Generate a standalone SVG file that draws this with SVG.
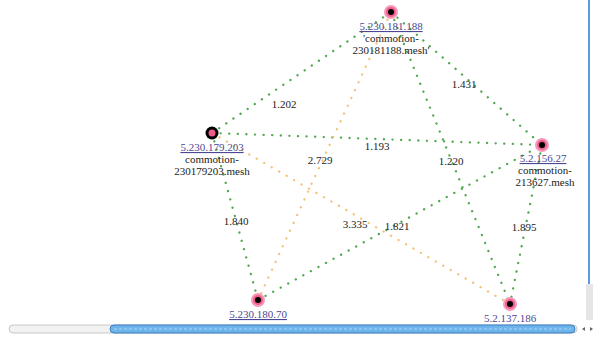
<svg xmlns="http://www.w3.org/2000/svg" width="593" height="339" viewBox="0 0 593 339">
<defs>
<style>
.g{stroke:#4fa84f;stroke-width:2.3;stroke-dasharray:0.1 8.5;stroke-linecap:round;fill:none}
.o{stroke:#f3c37a;stroke-width:2.3;stroke-dasharray:0.1 8.5;stroke-linecap:round;fill:none}
.el{font-family:"Liberation Serif",serif;font-size:11px;fill:#222;text-anchor:middle}
.ip{font-family:"Liberation Serif",serif;font-size:11px;fill:#4b4790;text-anchor:middle;text-decoration:underline}
.nm{font-family:"Liberation Serif",serif;font-size:11px;fill:#222;text-anchor:middle}
.pk{fill:#ee5c8c;stroke:#f59ab8;stroke-width:2}
</style>
</defs>
<rect width="593" height="339" fill="#fff"/>
<g id="connectors">
<line class="g" x1="212" y1="133" x2="391" y2="12"/>
<line class="g" x1="391" y1="12" x2="542" y2="145"/>
<line class="g" x1="212" y1="133" x2="542" y2="145"/>
<line class="g" x1="391" y1="12" x2="510" y2="304"/>
<line class="g" x1="212" y1="133" x2="258" y2="300"/>
<line class="g" x1="258" y1="300" x2="542" y2="145"/>
<line class="g" x1="542" y1="145" x2="510" y2="304"/>
<line class="o" x1="391" y1="12" x2="258" y2="300"/>
<line class="o" x1="212" y1="133" x2="510" y2="304"/>
<g id="edge-labels">
<text class="el" x="284" y="108">1.202</text>
<text class="el" x="464" y="88">1.431</text>
<text class="el" x="377" y="150">1.193</text>
<text class="el" x="451" y="165">1.220</text>
<text class="el" x="320" y="164">2.729</text>
<text class="el" x="236" y="225">1.840</text>
<text class="el" x="355" y="228">3.335</text>
<text class="el" x="397" y="230">1.821</text>
<text class="el" x="524" y="231">1.895</text>
</g>
</g>
<g id="node-181188">
<circle class="pk" cx="391" cy="12" r="6"/><circle cx="391" cy="12" r="3" fill="#000"/>
<text class="ip" x="391" y="30">5.230.181.188</text>
<text class="nm" x="391" y="42">'commotion-</text>
<text class="nm" x="391" y="54">230181188.mesh'</text>
</g>
<g id="node-179203">
<circle cx="212" cy="133" r="6.5" fill="#000"/><circle cx="212" cy="133" r="3.5" fill="#ee5c8c"/>
<text class="ip" x="212" y="151">5.230.179.203</text>
<text class="nm" x="212" y="163">commotion-</text>
<text class="nm" x="212" y="175">230179203.mesh</text>
</g>
<g id="node-15627">
<circle class="pk" cx="542" cy="145" r="6"/><circle cx="542" cy="145" r="3" fill="#000"/>
<text class="ip" x="543" y="162">5.2.156.27</text>
<text class="nm" x="545" y="174">commotion-</text>
<text class="nm" x="545" y="186">213627.mesh</text>
</g>
<g id="node-18070">
<circle class="pk" cx="258" cy="300" r="6"/><circle cx="258" cy="300" r="3" fill="#000"/>
<text class="ip" x="258" y="318">5.230.180.70</text>
<text class="nm" x="258" y="330">commotion-</text>
</g>
<g id="node-137186">
<circle class="pk" cx="510" cy="304" r="6"/><circle cx="510" cy="304" r="3" fill="#000"/>
<text class="ip" x="510" y="322">5.2.137.186</text>
</g>
<g id="scrollbars">
<rect x="0" y="322" width="593" height="17" fill="#fff"/>
<rect x="588" y="0" width="2" height="284" fill="#5b9be0"/>
<rect x="586" y="284" width="7" height="36" fill="#e6e6e6"/>
<rect x="9" y="325" width="568" height="8" rx="4" fill="#f2f2f2" stroke="#c8c8c8" stroke-width="1"/>
<rect x="110" y="325" width="465" height="8" rx="4" fill="#6cb4ea" stroke="#3d7fc4" stroke-width="1"/>
<line x1="114" y1="329" x2="571" y2="329" stroke="#a8d8f8" stroke-width="1" stroke-dasharray="3 2"/>
<path d="M582 329 l3 -2 v4z" fill="#666"/>
<path d="M590 327 l3 2 l-3 2z" fill="#666"/>
</g>
</svg>
